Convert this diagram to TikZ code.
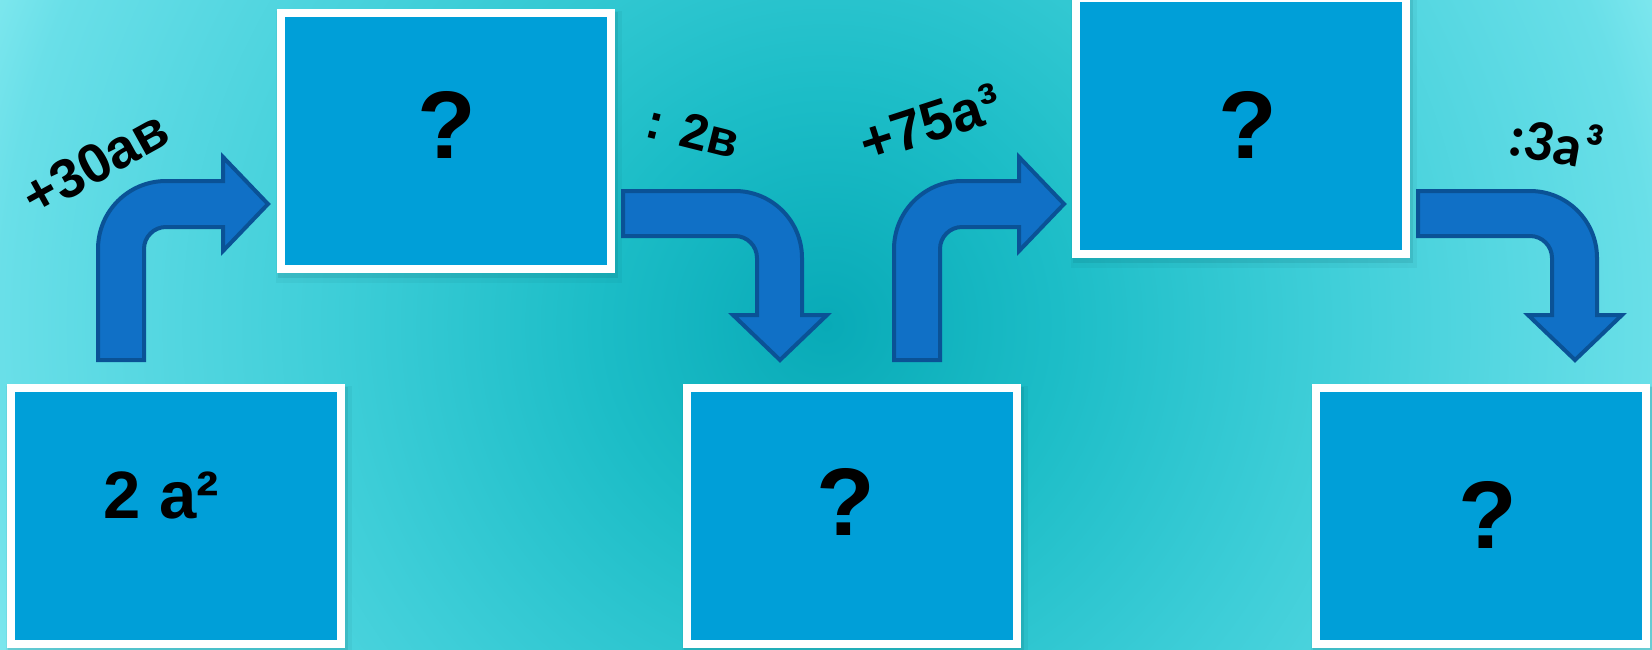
\documentclass[tikz,border=0pt]{standalone}
\usepackage{fontspec}
\setmainfont{Liberation Sans}
\newfontfamily\calibfont{Carlito}
\definecolor{bgA}{RGB}{8,170,183}
\definecolor{bgB}{RGB}{28,189,199}
\definecolor{bgC}{RGB}{62,206,216}
\definecolor{bgD}{RGB}{88,216,226}
\definecolor{bgE}{RGB}{105,223,232}
\definecolor{bgF}{RGB}{125,231,238}
\definecolor{cardblue}{RGB}{0,159,216}
\definecolor{arrfill}{RGB}{16,112,198}
\definecolor{arrdraw}{RGB}{10,82,150}
\definecolor{shadowc}{RGB}{0,60,70}
\pgfdeclareradialshading{bgshade}{\pgfpoint{0bp}{0bp}}{color(0bp)=(bgA); color(7bp)=(bgB); color(15bp)=(bgC); color(21bp)=(bgD); color(25bp)=(bgE); color(27bp)=(bgF); color(50bp)=(bgF)}
\tikzset{
  card/.style={draw=white, line width=8pt, fill=cardblue, minimum width=330pt, minimum height=256pt, inner sep=0pt,
    preaction={draw=shadowc, line width=16pt, opacity=0.05, transform canvas={xshift=3pt, yshift=-6pt}},
    preaction={draw=shadowc, line width=10pt, opacity=0.10, transform canvas={xshift=2pt, yshift=-4pt}}},
  qmark/.style={font=\fontsize{96}{96}\selectfont\bfseries, text=black, inner sep=0pt, anchor=base},
  lbl/.style={text=black, inner sep=0pt},
  bentarrow/.style={fill=arrfill, draw=arrdraw, line width=4pt, line join=miter}
}
\begin{document}
\begin{tikzpicture}[x=1pt,y=-1pt]
\useasboundingbox (0,0) rectangle (1652,649);
\clip (0,0) rectangle (1652,649);
\shade[shading=bgshade] (0,-501) rectangle (1652,1151);

% boxes
\node[card] (b1) at (176,516) {};
\node[card] (b2) at (446,140.5) {};
\node[card] (b3) at (851.5,515.5) {};
\node[card] (b4) at (1241,125.5) {};
\node[card] (b5) at (1481,515.5) {};

% box texts
\node[anchor=base west, inner sep=0pt, font=\fontsize{67}{67}\selectfont\bfseries] (t1) at (103,518) {2 a²};
\node[qmark] (q2) at (447,158) {?};
\node[qmark] (q3) at (846,535) {?};
\node[qmark] (q4) at (1248,158) {?};
\node[qmark] (q5) at (1488,548) {?};

% bent arrows (up then right)
\foreach \dx/\nm in {0/a1, 796/a3}{
\begin{scope}[xshift=\dx pt]
\draw[bentarrow] (98,360) -- (98,249) .. controls (98,211.4) and (128.4,181) .. (166,181)
  -- (223,181) -- (223,157) -- (268,204) -- (223,251) -- (223,227) -- (166,227)
  .. controls (153.85,227) and (144,236.85) .. (144,249) -- (144,360) -- cycle;
\end{scope}}
% bent arrows (right then down)
\foreach \dx/\nm in {0/a2, 795/a4}{
\begin{scope}[xshift=\dx pt]
\draw[bentarrow] (623,191) -- (735,191) .. controls (772,191) and (802,221) .. (802,258)
  -- (802,315) -- (827,315) -- (780,360) -- (733,315) -- (757,315) -- (757,258)
  .. controls (757,245.85) and (747.15,236) .. (735,236) -- (623,236) -- cycle;
\end{scope}}

% operation labels
\node[lbl, rotate=29, font=\fontsize{55}{55}\selectfont\bfseries] (l1) at (95,163) {+30aв};
\node[lbl, rotate=-14, font=\fontsize{50}{50}\selectfont\bfseries] (l2) at (693,131) {: 2в};
\node[lbl, rotate=18, font=\fontsize{56}{56}\selectfont\bfseries] (l3) at (930,123) {+75a³};
\node[lbl, rotate=-10, font=\calibfont\fontsize{58}{58}\selectfont\bfseries] (l4) at (1556,141) {:3a³};
\end{tikzpicture}
\end{document}
